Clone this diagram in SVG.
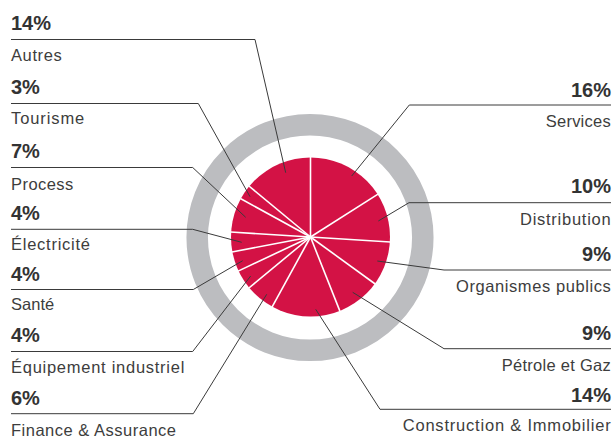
<svg xmlns="http://www.w3.org/2000/svg" width="614" height="437" viewBox="0 0 614 437">
<style>
.pct{font-family:"Liberation Sans",Arial,sans-serif;font-weight:bold;font-size:20px;fill:#333}
.lbl{font-family:"Liberation Sans",Arial,sans-serif;font-size:16.5px;fill:#3d3d3d}
.r{text-anchor:end}
.lead{fill:none;stroke:#3a3a3a;stroke-width:1}
.sep{stroke:#fff;stroke-width:1.6}
</style>
<rect width="614" height="437" fill="#fff"/>
<g id="ring"><circle cx="310" cy="237.5" r="112.8" fill="none" stroke="#bcbdc0" stroke-width="21.5"/></g>
<g id="pie">
<circle cx="310.5" cy="237" r="79.5" fill="#d31245"/>
<g class="sep">
<line x1="310.5" y1="237" x2="310.5" y2="157"/>
<line x1="310.5" y1="237" x2="378" y2="194.1"/>
<line x1="310.5" y1="237" x2="390.3" y2="242"/>
<line x1="310.5" y1="237" x2="375.2" y2="284"/>
<line x1="310.5" y1="237" x2="340" y2="311.4"/>
<line x1="310.5" y1="237" x2="272" y2="307.1"/>
<line x1="310.5" y1="237" x2="248.9" y2="288"/>
<line x1="310.5" y1="237" x2="238.1" y2="271.1"/>
<line x1="310.5" y1="237" x2="231.9" y2="252"/>
<line x1="310.5" y1="237" x2="230.7" y2="232"/>
<line x1="310.5" y1="237" x2="240.4" y2="198.5"/>
<line x1="310.5" y1="237" x2="248.9" y2="186"/>
</g>
</g>
<g id="connectors" class="lead">
<polyline points="11,39.5 255,39.5 285.7,172.7"/>
<polyline points="11,103.5 198.3,103.5 250,196.7"/>
<polyline points="11,167.5 192.7,167.5 245.7,217.3"/>
<polyline points="11,229.3 192.7,229.3 241.7,242.3"/>
<polyline points="11,289.5 193.3,289.5 242.7,260.7"/>
<polyline points="11,351.5 192.7,351.5 250.7,276"/>
<polyline points="11,413.7 193.3,413.7 266.7,294.3"/>
<polyline points="611,105 409.3,105 351.7,176"/>
<polyline points="611,202.7 409,202.7 378.3,221"/>
<polyline points="611,270 444,270 377.3,261"/>
<polyline points="611,348.7 444,348.7 352.7,292.3"/>
<polyline points="611,409.3 380,409.3 315.7,309.3"/>
</g>
<g id="autres"><text class="pct" x="11" y="30">14%</text><text class="lbl" x="11" y="61" textLength="50.7" lengthAdjust="spacing">Autres</text></g>
<g id="tourisme"><text class="pct" x="11" y="94">3%</text><text class="lbl" x="11" y="124.3" textLength="73.3" lengthAdjust="spacing">Tourisme</text></g>
<g id="process"><text class="pct" x="11" y="158.3">7%</text><text class="lbl" x="11" y="190" textLength="62.3" lengthAdjust="spacing">Process</text></g>
<g id="electricite"><text class="pct" x="11" y="220.3">4%</text><text class="lbl" x="11" y="250" textLength="79" lengthAdjust="spacing">Électricité</text></g>
<g id="sante"><text class="pct" x="11" y="280.7">4%</text><text class="lbl" x="11" y="310" textLength="43.3" lengthAdjust="spacing">Santé</text></g>
<g id="equipement"><text class="pct" x="11" y="342.3">4%</text><text class="lbl" x="11" y="373.3" textLength="173.3" lengthAdjust="spacing">Équipement industriel</text></g>
<g id="finance"><text class="pct" x="11" y="405">6%</text><text class="lbl" x="11" y="435.5" textLength="165" lengthAdjust="spacing">Finance &amp; Assurance</text></g>
<g id="services"><text class="pct r" x="611" y="96.7">16%</text><text class="lbl r" x="610.7" y="126.7" textLength="65" lengthAdjust="spacing">Services</text></g>
<g id="distribution"><text class="pct r" x="611" y="193.3">10%</text><text class="lbl r" x="610.7" y="225" textLength="90.7" lengthAdjust="spacing">Distribution</text></g>
<g id="organismes"><text class="pct r" x="611" y="261">9%</text><text class="lbl r" x="610.7" y="291.7" textLength="154.7" lengthAdjust="spacing">Organismes publics</text></g>
<g id="petrole"><text class="pct r" x="611" y="340">9%</text><text class="lbl r" x="610.7" y="370.7" textLength="109" lengthAdjust="spacing">Pétrole et Gaz</text></g>
<g id="construction"><text class="pct r" x="611" y="401.7">14%</text><text class="lbl r" x="610.7" y="431" textLength="208" lengthAdjust="spacing">Construction &amp; Immobilier</text></g>
</svg>
